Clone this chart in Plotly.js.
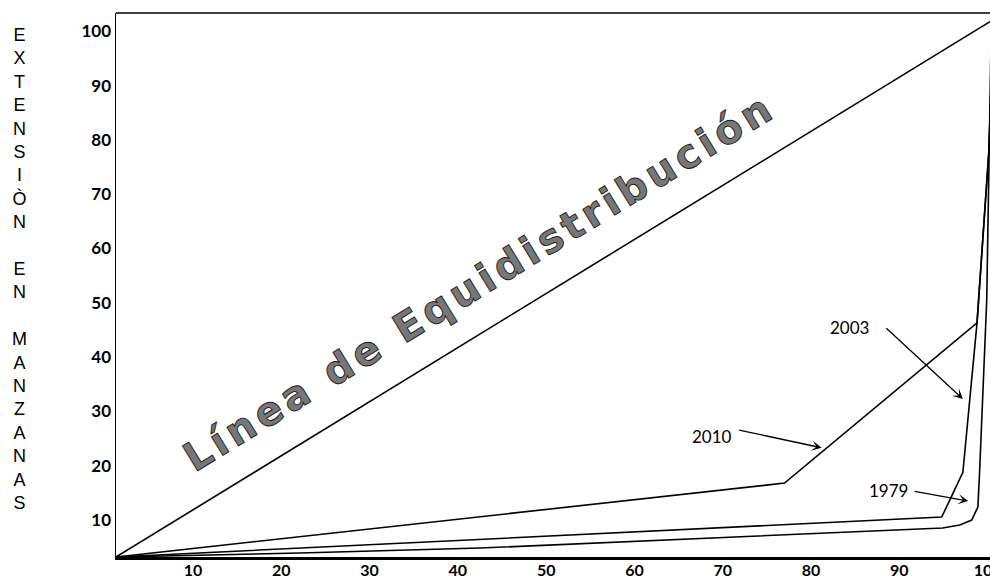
<!DOCTYPE html>
<html>
<head>
<meta charset="utf-8">
<script src="https://cdn.plot.ly/plotly-3.0.1.min.js"></script>
<style>
  html, body { margin: 0; padding: 0; background: #fff; }
  #chart { width: 990px; height: 581px; }
  g.annotation[data-index="0"] text { letter-spacing: 4.5px; stroke: #1a1a1a; stroke-width: 0.9px; }
</style>
</head>
<body>
<div id="chart"></div>
<script>
// ---- data ----
const xTicks = [10, 20, 30, 40, 50, 60, 70, 80, 90, 100];
const yTicks = [10, 20, 30, 40, 50, 60, 70, 80, 90, 100];

const equiX = [1.28, 100.5];
const equiY = [3.19, 102.0];

const x2010 = [1.28, 77.0, 98.8, 100.15, 100.6];
const y2010 = [3.19, 16.8, 46.3, 78.1, 100];

const x2003 = [1.28, 94.8, 96.1, 97.2, 98.8, 100.15, 100.6];
const y2003 = [3.19, 10.55, 15.0, 18.8, 46.3, 78.1, 100];

const x1979 = [1.28, 22.1, 42.5, 68.9, 90.1, 94.9, 96.85, 98.2, 98.9, 99.1, 99.9, 100.15, 100.4];
const y1979 = [3.19, 3.92, 4.84, 6.69, 8.07, 8.53, 9.08, 10.0, 12.4, 19.2, 50.5, 78.1, 100];

const seriesLabels = ['2010', '2003', '1979'];
const yTitleLetters = ['E','X','T','E','N','S','I','Ò','N',' ','E','N',' ','M','A','N','Z','A','N','A','S'];
const diagText = 'Línea de Equidistribución';

// ---- traces ----
const lineStyle = { color: '#000', width: 1.6 };
const traces = [
  { x: equiX, y: equiY, mode: 'lines', line: lineStyle, hoverinfo: 'skip' },
  { x: x2010, y: y2010, mode: 'lines', line: lineStyle, hoverinfo: 'skip', name: seriesLabels[0] },
  { x: x2003, y: y2003, mode: 'lines', line: lineStyle, hoverinfo: 'skip', name: seriesLabels[1] },
  { x: x1979, y: y1979, mode: 'lines', line: lineStyle, hoverinfo: 'skip', name: seriesLabels[2] }
];

const tickFontY = { family: 'Lato, "Open Sans", sans-serif', size: 17, weight: 700, color: '#000' };
const tickFontX = { family: 'Lato, "Open Sans", sans-serif', size: 16, weight: 700, color: '#000' };
const labelFont = { family: 'Lato, "Open Sans", sans-serif', size: 17, color: '#000' };

const annotations = [
  { xref: 'x', yref: 'y', x: 42.4, y: 53.8, text: diagText, showarrow: false,
    textangle: -31.5, font: { family: '"DejaVu Sans", sans-serif', size: 40, weight: 700, color: '#777' } },
  // labels
  { xref: 'x', yref: 'y', x: 84.4, y: 45.5, text: seriesLabels[1], showarrow: false, font: labelFont },
  { xref: 'x', yref: 'y', x: 68.8, y: 25.3, text: seriesLabels[0], showarrow: false, font: labelFont },
  { xref: 'x', yref: 'y', x: 88.8, y: 15.5, text: seriesLabels[2], showarrow: false, font: labelFont },
  // arrows
  { xref: 'x', yref: 'y', x: 97.2, y: 32.3, ax: -78, ay: -72, text: '', showarrow: true,
    arrowhead: 3, arrowsize: 1.3, arrowwidth: 1.3, arrowcolor: '#000', standoff: 0 },
  { xref: 'x', yref: 'y', x: 81.2, y: 23.3, ax: -84, ay: -18, text: '', showarrow: true,
    arrowhead: 3, arrowsize: 1.3, arrowwidth: 1.3, arrowcolor: '#000', standoff: 0 },
  { xref: 'x', yref: 'y', x: 97.8, y: 13.5, ax: -55, ay: -10, text: '', showarrow: true,
    arrowhead: 3, arrowsize: 1.3, arrowwidth: 1.3, arrowcolor: '#000', standoff: 0 },
  // vertical y-axis title
  { xref: 'paper', yref: 'paper', x: -0.11, y: 0.529, xanchor: 'center', yanchor: 'middle',
    text: yTitleLetters.join('<br>'), showarrow: false, align: 'center',
    font: { family: '"Liberation Sans", Arial, sans-serif', size: 18, color: '#000' } }
];

const layout = {
  width: 990, height: 581,
  margin: { l: 116, r: 0, t: 13, b: 24, pad: 0 },
  paper_bgcolor: '#fff', plot_bgcolor: '#fff',
  showlegend: false,
  xaxis: {
    range: [1.28, 100.27], tickvals: xTicks, ticktext: xTicks.map(String),
    ticks: '', showgrid: false, zeroline: false, showline: true, ticklabeloverflow: 'allow',
    ticklabelstandoff: -3,
    linecolor: '#000', linewidth: 2.5, tickfont: tickFontX, automargin: false, fixedrange: true
  },
  yaxis: {
    range: [3.19, 103.37], tickvals: yTicks, ticktext: yTicks.map(String),
    ticks: '', showgrid: false, zeroline: false, showline: true, ticklabeloverflow: 'allow',
    linecolor: '#000', linewidth: 1.5, tickfont: tickFontY, automargin: false, fixedrange: true
  },
  shapes: [
    { type: 'line', xref: 'paper', yref: 'paper', x0: 0, x1: 1, y0: 1, y1: 1,
      line: { color: '#000', width: 1.5 } }
  ],
  annotations: annotations
};

Plotly.newPlot('chart', traces, layout, { staticPlot: true, displayModeBar: false });
</script>
</body>
</html>
